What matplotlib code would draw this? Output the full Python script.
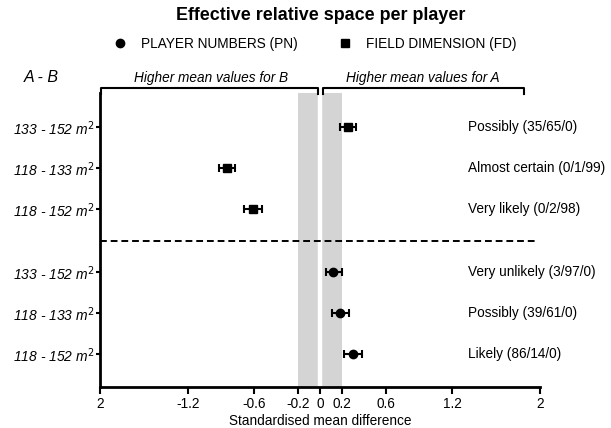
import matplotlib
matplotlib.use("Agg")
import matplotlib.pyplot as plt
import numpy as np
from matplotlib.lines import Line2D

plt.rcParams['font.family'] = ['Liberation Sans', 'DejaVu Sans']

# comparisons (bottom to top within each block)
comparisons = ["118 - 152 m$^2$", "118 - 133 m$^2$", "133 - 152 m$^2$"]

# player numbers (PN): mean and 90% CI
pn_mean = [0.30, 0.18, 0.12]
pn_lo = [0.22, 0.11, 0.05]
pn_hi = [0.38, 0.26, 0.20]
pn_text = ["Likely (86/14/0)", "Possibly (39/61/0)", "Very unlikely (3/97/0)"]

# field dimension (FD)
fd_mean = [-0.61, -0.85, 0.25]
fd_lo = [-0.69, -0.92, 0.18]
fd_hi = [-0.53, -0.77, 0.33]
fd_text = ["Very likely (0/2/98)", "Almost certain (0/1/99)", "Possibly (35/65/0)"]

xticks = [-2, -1.2, -0.6, -0.2, 0, 0.2, 0.6, 1.2, 2]
xticklabels = ["2", "-1.2", "-0.6", "-0.2", "0", "0.2", "0.6", "1.2", "2"]
trivial = 0.2

W, H = 611, 428
fig = plt.figure(figsize=(W / 100, H / 100), dpi=100)
ax = fig.add_axes([100 / W, 41 / H, 440 / W, 294 / H])

pn_y = np.arange(1, 4)
fd_y = pn_y + 3.54

# trivial zone
ax.axvspan(-trivial, trivial, color='#d4d4d4', lw=0, zorder=0)
ax.axvline(0, color='white', lw=3.2, zorder=1)

pn_mean = np.array(pn_mean)
fd_mean = np.array(fd_mean)
ax.errorbar(pn_mean, pn_y, xerr=[pn_mean - np.array(pn_lo), np.array(pn_hi) - pn_mean],
            fmt='o', color='black', ms=6, capsize=2.8, elinewidth=1.5, capthick=1.5, zorder=3)
ax.errorbar(fd_mean, fd_y, xerr=[fd_mean - np.array(fd_lo), np.array(fd_hi) - fd_mean],
            fmt='s', color='black', ms=5.5, capsize=2.8, elinewidth=1.5, capthick=1.5, zorder=3)

for y, t in zip(pn_y, pn_text):
    ax.text(1.35, y, t, va='center', ha='left', fontsize=9.8)
for y, t in zip(fd_y, fd_text):
    ax.text(1.35, y, t, va='center', ha='left', fontsize=9.8)

# separator
ax.plot([-2, 1.98], [3.76, 3.76], color='black', lw=1.4, ls=(0, (3.5, 2)), zorder=2)

ax.set_xlim(-2, 2)
ax.set_ylim(0.195, 7.37)
ax.set_xticks(xticks)
ax.set_xticklabels(xticklabels, fontsize=9.8)
ax.set_yticks(list(pn_y) + list(fd_y))
ax.set_yticklabels(comparisons + comparisons, fontsize=10, style='italic')
ax.set_xlabel("Standardised mean difference", fontsize=9.8, labelpad=2)
for s in ['top', 'right']:
    ax.spines[s].set_visible(False)
for s in ['left', 'bottom']:
    ax.spines[s].set_linewidth(2)
ax.tick_params(axis='x', length=5, width=1.5, pad=2.5)
ax.tick_params(axis='y', length=3, width=1.5, pad=1)

# brackets above the plot
def bracket(x0, x1):
    xs = np.array([x0, x0, x1, x1]) / W
    ys = 1 - np.array([94, 88, 88, 94]) / H
    fig.add_artist(Line2D(xs, ys, color='black', lw=1.5, transform=fig.transFigure))

bracket(100.5, 318)
bracket(323, 524)
fig.text(211 / W, 1 - 78 / H, "Higher mean values for B", ha='center', va='center',
         fontsize=9.8, style='italic')
fig.text(423 / W, 1 - 78 / H, "Higher mean values for A", ha='center', va='center',
         fontsize=9.8, style='italic')
fig.text(41 / W, 1 - 77 / H, "A - B", ha='center', va='center', fontsize=11.5, style='italic')

fig.text(320.5 / W, 1 - 16 / H, "Effective relative space per player", ha='center', va='center',
         fontsize=12.9, weight='bold')

handles = [Line2D([], [], marker='o', ls='none', color='black', ms=6),
           Line2D([], [], marker='s', ls='none', color='black', ms=5.5)]
fig.legend(handles, ["PLAYER NUMBERS (PN)", "FIELD DIMENSION (FD)"], ncol=2,
           loc='center', bbox_to_anchor=(315 / W, 1 - 44 / H), frameon=False,
           fontsize=9.8, handlelength=1, handletextpad=1.05, columnspacing=3.0)

fig.savefig("out.png", dpi=100)
